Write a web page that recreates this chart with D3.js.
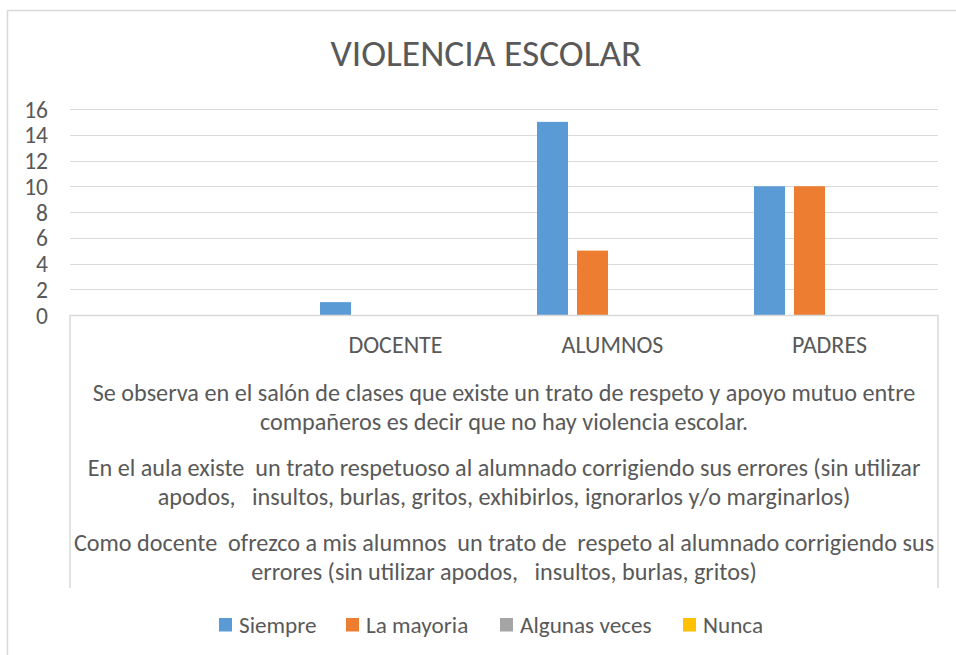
<!DOCTYPE html>
<html>
<head>
<meta charset="utf-8">
<script src="https://cdn.jsdelivr.net/npm/d3@7"></script>
<style>
  body { margin: 0; background: #fff; }
  svg { display: block; font-family: Carlito, "Open Sans", sans-serif; }
</style>
</head>
<body>
<svg id="chart"></svg>
<script>
const categories = ["", "DOCENTE", "ALUMNOS", "PADRES"];
const series = ["Siempre", "La mayoria", "Algunas veces", "Nunca"];
const siempre = [null, 1, 15, 10];
const laMayoria = [null, 0, 5, 10];
const algunasVeces = [null, 0, 0, 0];
const nunca = [null, 0, 0, 0];
const yTicks = [0, 2, 4, 6, 8, 10, 12, 14, 16];
const notes = [
  ["Se observa en el salón de clases que existe un trato de respeto y apoyo mutuo entre",
   "compañeros es decir que no hay violencia escolar."],
  ["En el aula existe  un trato respetuoso al alumnado corrigiendo sus errores (sin utilizar",
   "apodos,   insultos, burlas, gritos, exhibirlos, ignorarlos y/o marginarlos)"],
  ["Como docente  ofrezco a mis alumnos  un trato de  respeto al alumnado corrigiendo sus",
   "errores (sin utilizar apodos,   insultos, burlas, gritos)"]
];
const colors = ["#5B9BD5", "#ED7D31", "#A5A5A5", "#FFC000"];
const values = [siempre, laMayoria, algunasVeces, nunca];

const width = 956, height = 655;
const plot = { left: 70, right: 938, top: 109, bottom: 315 };
const textColor = "#595959";

const svg = d3.select("#chart").attr("width", width).attr("height", height);

// chart border
svg.append("rect")
  .attr("x", 7.5).attr("y", 10.5)
  .attr("width", width).attr("height", height)
  .attr("fill", "#fff").attr("stroke", "#D9D9D9").attr("stroke-width", 1.5);

svg.append("text")
  .attr("x", 486).attr("y", 66)
  .attr("text-anchor", "middle")
  .attr("font-size", 37.5)
  .attr("fill", textColor)
  .text("VIOLENCIA ESCOLAR");

const x0 = d3.scaleBand().domain(categories.map((c, i) => i))
  .range([plot.left, plot.right]).padding(0);
const x1 = d3.scaleBand().domain(series)
  .range([33, x0.bandwidth() - 33]).paddingInner(0.225).paddingOuter(0);
const y = d3.scaleLinear().domain([0, 16]).range([plot.bottom, plot.top]);

// gridlines
svg.append("g")
  .selectAll("line")
  .data(yTicks.filter(d => d > 0))
  .join("line")
  .attr("x1", plot.left).attr("x2", plot.right)
  .attr("y1", d => Math.round(y(d)) + 0.5).attr("y2", d => Math.round(y(d)) + 0.5)
  .attr("stroke", "#D9D9D9").attr("stroke-width", 1);

// y labels
svg.append("g")
  .selectAll("text")
  .data(yTicks)
  .join("text")
  .attr("x", 48).attr("y", d => y(d) + 8.5)
  .attr("text-anchor", "end")
  .attr("font-size", 23.5)
  .attr("fill", textColor)
  .text(d => d);

// bars
const groups = svg.append("g")
  .selectAll("g")
  .data(categories.map((c, i) => i))
  .join("g")
  .attr("transform", i => `translate(${x0(i)},0)`);

groups.selectAll("rect")
  .data(i => series.map((s, k) => ({ s, k, v: values[k][i] })).filter(d => d.v))
  .join("rect")
  .attr("x", d => x1(d.s))
  .attr("width", x1.bandwidth())
  .attr("y", d => y(d.v))
  .attr("height", d => y(0) - y(d.v))
  .attr("fill", d => colors[d.k]);

// category axis box
const axisBottom = 588;
svg.append("path")
  .attr("d", `M${plot.left},${axisBottom}V${plot.bottom + 0.5}H${plot.right}V${axisBottom}`)
  .attr("fill", "none").attr("stroke", "#D9D9D9").attr("stroke-width", 1.5);

svg.append("g")
  .selectAll("text")
  .data(categories.map((c, i) => i))
  .join("text")
  .attr("x", i => x0(i) + x0.bandwidth() / 2)
  .attr("y", 353)
  .attr("text-anchor", "middle")
  .attr("font-size", 24)
  .attr("fill", textColor)
  .text(i => categories[i]);

const noteY = [401, 476, 551];
const cx = (plot.left + plot.right) / 2;
notes.forEach((lines, n) => {
  lines.forEach((line, j) => {
    svg.append("text")
      .attr("x", cx).attr("y", noteY[n] + j * 29)
      .attr("text-anchor", "middle")
      .attr("font-size", 24.2)
      .attr("fill", textColor)
      .attr("xml:space", "preserve")
      .style("white-space", "pre")
      .text(line);
  });
});

// legend
const legendX = [219, 346, 500, 683];
const legend = svg.append("g")
  .selectAll("g")
  .data(series)
  .join("g")
  .attr("transform", (d, i) => `translate(${legendX[i]},618)`);
legend.append("rect")
  .attr("width", 13).attr("height", 13.5)
  .attr("fill", (d, i) => colors[i]);
legend.append("text")
  .attr("x", 20).attr("y", 15)
  .attr("font-size", 23.2)
  .attr("fill", textColor)
  .text(d => d);
</script>
</body>
</html>
